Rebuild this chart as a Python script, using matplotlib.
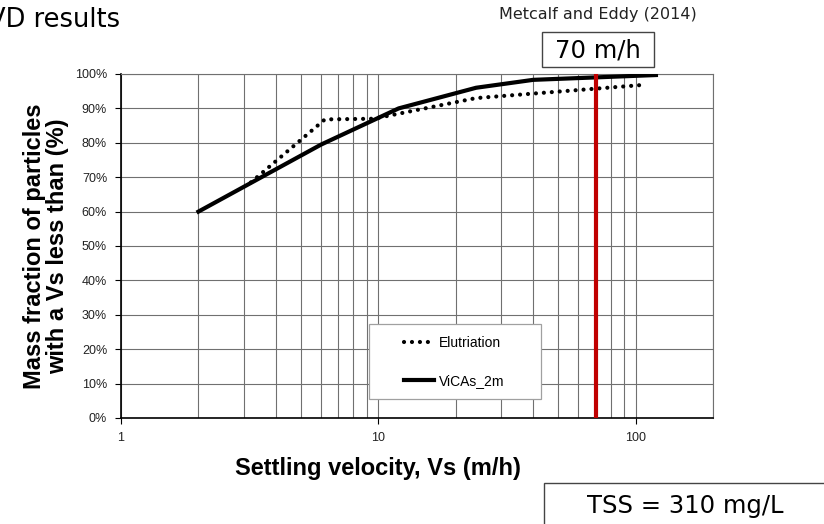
import matplotlib.pyplot as plt
from matplotlib.patches import Rectangle
from matplotlib.ticker import FixedLocator, FuncFormatter, NullFormatter, LogLocator

# Settling velocity distributions (m/h, % mass fraction)
elut_vs = [3.2, 6.2, 9.6, 24, 106]
elut_frac = [68.5, 86.8, 87.0, 93.0, 96.8]
vicas_vs = [2, 6, 12, 24, 40, 120]
vicas_frac = [60.0, 79.5, 90.0, 96.0, 98.3, 99.7]
design_vs = 70
y_ticks = [0, 10, 20, 30, 40, 50, 60, 70, 80, 90, 100]
x_ticks = [1, 10, 100]

W, H = 824, 524
fig = plt.figure(figsize=(W / 100, H / 100), dpi=100)
ax = fig.add_axes([121 / W, 1 - 418 / H, (713 - 121) / W, (418 - 74) / H])

ax.plot(elut_vs, elut_frac, color="black", lw=3, linestyle=(0, (0.01, 1.9)),
        dash_capstyle="round", label="Elutriation", zorder=4)
ax.plot(vicas_vs, vicas_frac, color="black", lw=3, label="ViCAs_2m", zorder=4)
ax.plot([design_vs, design_vs], [0, 100], color="#C00000", lw=3, zorder=5)

ax.set_xscale("log")
ax.set_xlim(1, 200)
ax.set_ylim(0, 100)
ax.xaxis.set_major_locator(FixedLocator(x_ticks))
ax.xaxis.set_major_formatter(FuncFormatter(lambda v, p: f"{v:g}"))
ax.xaxis.set_minor_locator(LogLocator(base=10, subs=range(2, 10)))
ax.xaxis.set_minor_formatter(NullFormatter())
ax.set_yticks(y_ticks)
ax.set_yticklabels([f"{v}%" for v in y_ticks])
ax.grid(True, which="both", color="#707070", lw=0.8)
ax.tick_params(labelsize=9, length=4, color="black", pad=6, labelcolor="#222222")
ax.tick_params(which="minor", length=0)
for lab in ax.get_xticklabels() + ax.get_yticklabels():
    lab.set_fontfamily("Liberation Sans")
for s in ["top", "right"]:
    ax.spines[s].set_color("#707070")
    ax.spines[s].set_linewidth(0.8)
for s in ["left", "bottom"]:
    ax.spines[s].set_linewidth(1.2)

fig.text(378 / W, 1 - 475 / H, "Settling velocity, Vs (m/h)", fontsize=17,
         fontweight="bold", family="Liberation Sans", ha="center", va="baseline")
fig.text(46 / W, 1 - 246 / H, "Mass fraction of particles\nwith a Vs less than (%)",
         fontsize=17, fontweight="bold", family="Liberation Sans", ha="center",
         va="center", rotation=90, linespacing=1.0, multialignment="center")

# legend, with its own wider frame
ax.add_patch(Rectangle((369 / W, 1 - 399 / H), (541 - 369) / W, 75 / H,
                       transform=fig.transFigure, fc="white", ec="#a0a0a0", lw=0.9,
                       zorder=6, clip_on=False))
leg = ax.legend(loc="center left", bbox_to_anchor=(391 / W, 1 - 362 / H),
                bbox_transform=fig.transFigure, frameon=False,
                handlelength=2.2, handletextpad=0.35, labelspacing=1.75,
                borderpad=0.4, prop={"family": "Liberation Sans", "size": 10})
leg.set_zorder(7)

fig.text(-12 / W, 1 - 20 / H, "VD results", fontsize=18.5, ha="left", va="center")
fig.text(598 / W, 1 - 14 / H, "Metcalf and Eddy (2014)", fontsize=11.5,
         ha="center", va="center", color="#222222")
fig.add_artist(Rectangle((542 / W, 1 - 67 / H), 112 / W, 35 / H,
                         transform=fig.transFigure, fc="white", ec="#444444", lw=1))
fig.text(598 / W, 1 - 50 / H, "70 m/h", fontsize=17.5, ha="center", va="center")
fig.add_artist(Rectangle((544 / W, -0.1), 0.5, (H - 483) / H + 0.1,
                         transform=fig.transFigure, fill=False, ec="#444444", lw=1))
fig.text(685 / W, 1 - 506 / H, "TSS = 310 mg/L", fontsize=17.5, ha="center",
         va="center")

plt.savefig("out.png", dpi=100)
